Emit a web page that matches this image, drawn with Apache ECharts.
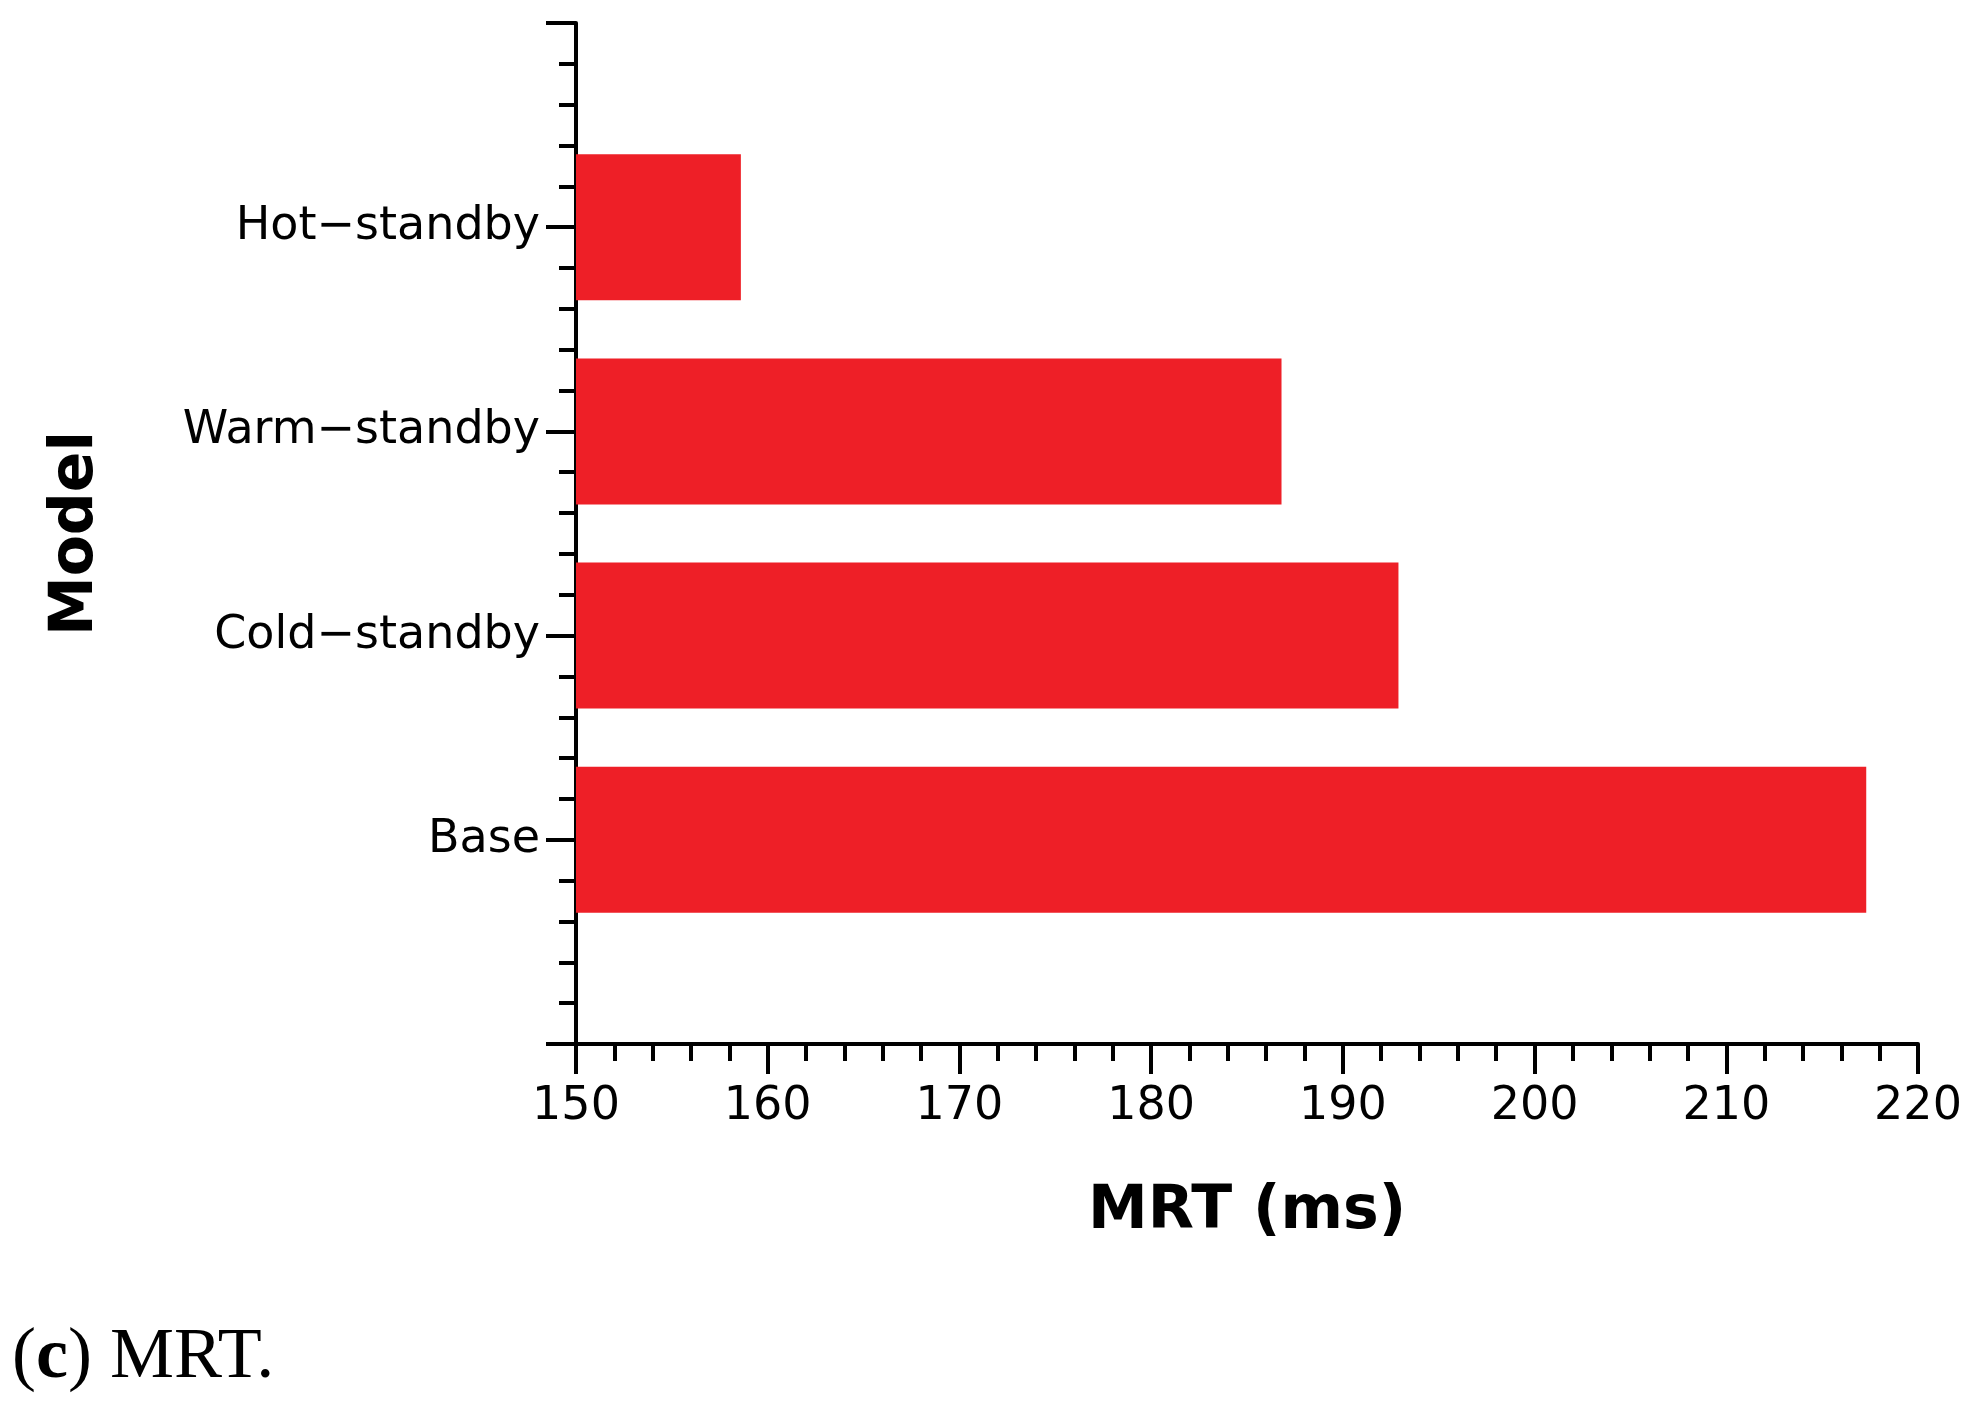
<!DOCTYPE html>
<html>
<head>
<meta charset="utf-8">
<script src="https://cdn.jsdelivr.net/npm/echarts@6/dist/echarts.min.js"></script>
<style>html,body{margin:0;padding:0;background:#fff}#main{width:1971px;height:1419px}</style>
</head>
<body>
<div id="main"></div>
<script>
// categories, bottom to top; the empty slots pad the axis ends
var models = ['', 'Base', 'Cold\u2212standby', 'Warm\u2212standby', 'Hot\u2212standby', ''];
var mrt = ['-', 217.3, 192.9, 186.8, 158.6, '-'];
var xTicks = [150, 160, 170, 180, 190, 200, 210, 220];

var chart = echarts.init(document.getElementById('main'));
var font = 'DejaVu Sans';
var tickStyle = { color: '#000', width: 4 };
chart.setOption({
  animation: false,
  grid: { left: 576, top: 23, right: 53, bottom: 375 },
  xAxis: {
    type: 'value', min: xTicks[0], max: xTicks[xTicks.length - 1], interval: 10,
    name: 'MRT (ms)', nameLocation: 'middle', nameGap: 138,
    nameTextStyle: { fontFamily: font, fontSize: 60, fontWeight: 'bold', color: '#000' },
    axisLine: { lineStyle: tickStyle },
    axisTick: { show: true, inside: false, length: 30, lineStyle: tickStyle },
    minorTick: { show: true, splitNumber: 5, length: 17, lineStyle: tickStyle },
    axisLabel: { fontFamily: font, fontSize: 46, color: '#000', margin: 40 },
    splitLine: { show: false }
  },
  yAxis: [{
    // visible axis: ticks and labels
    type: 'value', min: 0, max: 5, interval: 1,
    name: 'Model', nameLocation: 'middle', nameGap: 470, nameRotate: 90,
    nameTextStyle: { fontFamily: font, fontSize: 60, fontWeight: 'bold', color: '#000' },
    axisLine: { show: true, lineStyle: tickStyle },
    axisTick: { show: true, inside: false, length: 30, lineStyle: tickStyle },
    minorTick: { show: true, splitNumber: 5, length: 17, lineStyle: tickStyle },
    axisLabel: {
      fontFamily: font, fontSize: 46, color: '#000', margin: 36,
      formatter: function (v) { return models[v] || ''; }
    },
    splitLine: { show: false }
  }, {
    // hidden category axis that carries the bars
    type: 'category', data: models, boundaryGap: false, position: 'left',
    axisLine: { show: false }, axisTick: { show: false }, axisLabel: { show: false },
    splitLine: { show: false }
  }],
  series: [{
    type: 'bar',
    yAxisIndex: 1,
    data: mrt,
    barWidth: 146,
    itemStyle: { color: '#ee1f27' }
  }],
  graphic: [{
    type: 'text', left: 12, top: 1322,
    style: {
      text: '({c|c}) MRT.',
      fontFamily: 'Liberation Serif', fontSize: 72, fill: '#000',
      rich: { c: { fontFamily: 'Liberation Serif', fontSize: 72, fontWeight: 'bold' } }
    }
  }]
});
</script>
</body>
</html>
